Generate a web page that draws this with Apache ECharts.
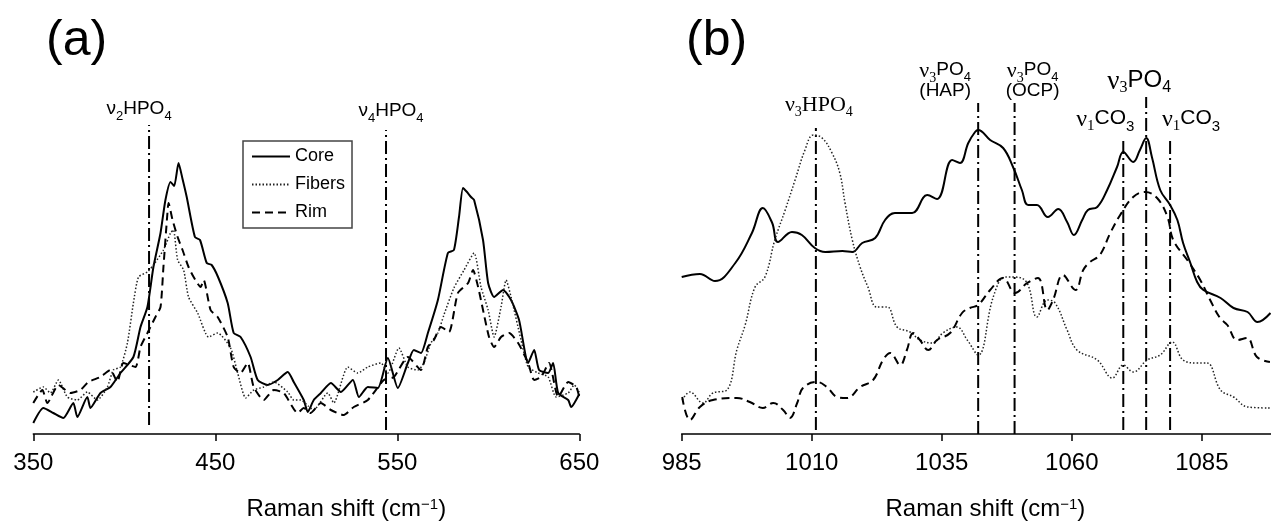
<!DOCTYPE html>
<html>
<head>
<meta charset="utf-8">
<script src="https://cdn.jsdelivr.net/npm/echarts@6/dist/echarts.min.js"></script>
<style>
  html, body { margin: 0; padding: 0; background: #fff; }
  #main { width: 1271px; height: 527px; }
</style>
</head>
<body>
<div id="main"></div>
<script>
// ---- panel (a): 350-650 cm-1, intensity in arbitrary units ----
const coreA = [[350,11],[355.5,26],[361,21],[366.5,16],[372,31],[374.2,17],[379.7,37],[381.4,26],[386.9,41],[392.4,47],[397.9,61],[405,77],[408.9,107],[412.7,127],[416,167],[419.9,201],[422.6,234],[425.4,252],[427.4,248],[429.8,271],[432,255],[434.3,237],[438.8,197],[441.6,194],[445.3,171],[448,169],[451.5,157],[456.8,131],[460.1,101],[463.9,97],[469.4,77],[473.3,54],[478.8,49],[484.3,54],[489.8,62],[493.1,52],[498.6,34],[500.8,22],[504.1,34],[508,41],[513.5,51],[519,42],[525.6,54],[528.9,37],[533.8,47],[539.3,46],[544.8,76],[550.3,46],[555.8,71],[559.1,84],[563,81],[566.8,101],[572.3,134],[577.8,181],[581.1,184],[583.9,217],[586.1,246],[588.3,242],[590.5,237],[592.2,234],[597.1,194],[599.9,151],[603.2,137],[608.1,144],[612.5,134],[616.9,114],[621.9,71],[625.2,84],[627.9,64],[632.9,61],[635.6,71],[638.4,41],[643.9,34],[645.5,27],[650,40]];
const fibersA = [[350,42],[355.5,47],[359.4,41],[363.8,54],[368.7,37],[374.2,34],[379.7,42],[385.2,34],[390.7,47],[394,64],[397.9,67],[401.7,91],[405,131],[407.8,157],[412.7,162],[416,169],[421.5,184],[425.4,201],[427,204],[429.3,174],[432.6,164],[435.3,137],[440.3,121],[446.3,97],[451.3,101],[458.4,86],[462.3,61],[466.7,36],[471.1,44],[476.6,47],[482.1,52],[489.8,42],[493.1,34],[497,34],[501,28],[504,24],[511.8,41],[515.1,31],[522.8,67],[528.3,61],[533.8,67],[541,71],[544.8,61],[550.9,86],[555.8,67],[561.3,64],[564.6,71],[568.5,91],[572.3,101],[575.6,119],[581.1,146],[586.7,164],[592.2,181],[596,147],[599.9,124],[603.2,97],[607,127],[609.8,154],[612.5,137],[618,94],[621.9,67],[627.4,61],[632.9,57],[637.3,37],[643.9,41],[647.2,49],[650,42]];
const rimA = [[350,31],[355,44],[357.7,31],[363.8,49],[370.4,41],[375.9,44],[380.3,52],[386.9,57],[392.4,64],[396.2,52],[399.5,71],[406.1,67],[408.9,87],[412.7,101],[417.1,117],[419.9,127],[421.5,167],[423.7,221],[424.3,231],[426.5,214],[429.3,197],[432,184],[435.3,167],[438.1,157],[441.9,147],[443.6,154],[447.4,124],[451.3,117],[456.8,97],[460.1,67],[463.9,61],[467.8,71],[471.1,47],[476.6,34],[482.1,44],[487.6,41],[495.3,21],[498.6,26],[502.4,21],[508,31],[513.5,24],[520.6,19],[526.1,27],[533.8,34],[542.6,54],[548.1,57],[555.8,77],[563,64],[566.8,87],[570.1,94],[574,107],[578.4,102],[583.3,141],[588.9,151],[591.6,164],[594.4,147],[597.1,124],[600.4,97],[603.2,87],[607,97],[611.4,101],[616.4,91],[621.9,71],[625.2,54],[629,57],[633.4,71],[638.4,37],[643.9,52],[648.3,47],[650,37]];

// ---- panel (b): 985-1098 cm-1 ----
const coreB = [[985,157],[988.5,160],[991.4,153],[995.3,171],[998.5,201],[1000.6,226],[1002.4,211],[1003.5,192],[1006.2,202],[1008.1,199],[1010.6,186],[1012.6,182],[1015.9,183],[1017.8,182],[1019.7,191],[1022.2,196],[1024.1,214],[1026,221],[1029.3,221],[1032.2,239],[1034.1,235],[1037,274],[1038.5,271],[1040.1,291],[1041.4,302],[1042,304],[1044.3,294],[1046.8,286],[1048.7,267],[1050.4,244],[1051.6,229],[1053.3,229],[1055.4,217],[1057.4,225],[1059.1,212],[1060.4,199],[1062,214],[1063.1,224],[1064.9,227],[1066.8,244],[1068.7,267],[1069.9,282],[1071.8,272],[1073.1,284],[1074.3,296],[1075.4,277],[1077,244],[1078.9,229],[1080.3,214],[1081.4,191],[1082.8,171],[1084.1,152],[1085.3,144],[1088.6,136],[1091.1,126],[1093.8,122],[1095.7,112],[1098.2,121]];
const fibersB = [[985.1,34],[986.6,42],[989.1,31],[991,41],[993.7,44],[995.6,84],[997.2,109],[999.1,147],[1001,157],[1002.9,194],[1004.9,224],[1006.8,254],[1008.7,284],[1010.3,299],[1012,296],[1013.9,281],[1015.4,261],[1016.4,231],[1017.8,194],[1019.3,167],[1020.8,147],[1022.5,127],[1024.5,127],[1026.4,107],[1028.9,102],[1030.8,94],[1033.3,91],[1035.2,101],[1037.9,107],[1039.9,94],[1042,79],[1044.9,137],[1047.2,157],[1049.1,157],[1051.4,151],[1053.3,117],[1055.3,134],[1056.8,131],[1059.1,104],[1061,84],[1064.9,74],[1067.8,56],[1069.9,69],[1071.8,62],[1074.5,74],[1077,79],[1079.3,92],[1081.4,74],[1084.1,71],[1086,71],[1088.6,44],[1091.1,37],[1093.8,27],[1098.2,26]];
const rimB = [[985.1,37],[986.6,14],[988.5,27],[991,34],[995.6,36],[998.1,32],[1000.6,26],[1002.6,31],[1004.5,24],[1005.8,16],[1007.2,31],[1008.3,46],[1011,52],[1012.9,47],[1014.9,37],[1016.8,36],[1019.3,47],[1021.8,54],[1023.7,74],[1025.1,81],[1027,69],[1028.3,84],[1029.5,101],[1030.8,94],[1032.4,84],[1034.1,94],[1036.6,101],[1038.9,121],[1040.4,126],[1042,129],[1044.3,144],[1046.8,156],[1049.1,141],[1051.4,151],[1053.5,156],[1055.3,124],[1056.4,134],[1058.3,159],[1060.7,144],[1062.2,164],[1063.5,172],[1065.4,179],[1067.4,201],[1069.3,219],[1071.8,237],[1074.1,242],[1076.4,236],[1078.4,217],[1079.5,194],[1082.2,174],[1084.7,154],[1086.6,134],[1088.5,116],[1089.9,109],[1091.8,94],[1093.7,96],[1095.6,77],[1098.1,72]];

// band markers: position (cm-1), bottom / top of the dash-dot line, label
const markAx = [413.6, 543.8];
const markAlo = [9, 4];
const markAhi = [309, 304];
const markAtxt = ['{v|ν}{s|2}{t|HPO}{s|4}', '{v|ν}{s|4}{t|HPO}{s|4}'];

const markBx = [1010.8, 1042.0, 1049.0, 1069.9, 1074.3, 1078.9];
const markBlo = [4, 0, 0, 4, 4, 4];
const markBhi = [306, 331, 331, 297, 337, 297];
const markBtxt = [
  '{sv|ν}{ss|3}{st|HPO}{ss|4}',
  '{sv|ν}{ss|3}{t|PO}{s|4}\n{t|(HAP)}',
  '{sv|ν}{ss|3}{t|PO}{s|4}\n{t|(OCP)}',
  '{cv|ν}{cs|1}{ct|CO}{cb|3}',
  '{bv|ν}{bs|3}{bt|PO}{bsub|4}',
  '{cv|ν}{cs|1}{ct|CO}{cb|3}'
];

const SANS = '"Liberation Sans", Arial, sans-serif'
const SERIF = '"Liberation Serif", "Times New Roman", serif'

// label placement (px), kept apart from the data
const labA = [[-10, 5], [5, 8]]
const labB = [[3, 13], [-33, 1], [18, 1], [-18, 7], [-7, 5], [21, 7]]

function tok(family, size, lh, drop) {
  const t = { fontFamily: family, fontSize: size, lineHeight: lh, verticalAlign: 'top', color: '#000' }
  if (drop) t.padding = [drop, 0, 0, 0]
  return t
}

const richLab = {
  v: tok(SANS, 19, 21), t: tok(SANS, 19, 21), s: tok(SANS, 13, 13, 11),
  sv: tok(SERIF, 22, 21), st: tok(SERIF, 22, 21), ss: tok(SERIF, 14, 14, 11),
  cv: tok(SERIF, 24, 22), ct: tok(SANS, 21, 22), cs: tok(SERIF, 15, 15, 11), cb: tok(SANS, 15, 15, 11),
  bv: tok(SERIF, 27, 24), bt: tok(SANS, 24, 24), bs: tok(SERIF, 16, 16, 12), bsub: tok(SANS, 16, 16, 12)
}

function markerSeries(xs, lo, hi, txt, lab, axis) {
  return xs.map((x, i) => ({
    type: 'line',
    xAxisIndex: axis,
    yAxisIndex: axis,
    silent: true,
    symbol: 'circle',
    symbolSize: 0,
    showSymbol: true,
    lineStyle: { color: '#000', width: 2, type: [13, 4, 2, 4] },
    data: [
      [x, lo[i]],
      {
        value: [x, hi[i]],
        label: {
          show: true,
          position: 'top',
          distance: lab[i][1],
          offset: [lab[i][0], 0],
          align: 'center',
          formatter: txt[i],
          rich: richLab
        }
      }
    ],
    z: 1
  }))
}

// 画图
function spectrum(name, data, axis, style, smooth) {
  return {
    name: name,
    type: 'line',
    xAxisIndex: axis,
    yAxisIndex: axis,
    data: data,
    symbol: 'circle',
    showSymbol: false,
    smooth: smooth,
    lineStyle: style,
    z: 3
  }
}

const coreStyle = { color: '#000', width: 2, type: 'solid' }
const fibersStyle = { color: '#222', width: 1.5, type: [1.5, 2] }
const rimStyle = { color: '#000', width: 2, type: [8, 5] }

const axisName = '{a|Raman shift (cm}{b|−1}{a|)}'

function xAxisOf(grid, min, max, interval, shift) {
  return {
    gridIndex: grid,
    type: 'value',
    min: min,
    max: max,
    interval: interval,
    axisLine: { lineStyle: { color: '#000', width: 1.5 } },
    axisTick: { show: true, length: 7, lineStyle: { color: '#000', width: 1.5 } },
    axisLabel: {
      fontFamily: SANS, fontSize: 24, color: '#000', margin: 17,
      showMinLabel: true, showMaxLabel: grid === 0,
      formatter: v => String(v)
    },
    splitLine: { show: false },
    name: axisName,
    nameLocation: 'middle',
    nameGap: 63,
    nameTextStyle: {
      padding: [0, 0, 0, shift],
      rich: {
        a: { fontFamily: SANS, fontSize: 24, lineHeight: 26, verticalAlign: 'top', color: '#000' },
        b: { fontFamily: SANS, fontSize: 15, lineHeight: 15, verticalAlign: 'top', color: '#000' }
      }
    }
  }
}

const myChart = echarts.init(document.getElementById('main'))
myChart.setOption({
  animation: false,
  backgroundColor: '#fff',
  title: [
    { text: '(a)', left: 46, top: 16, padding: 0, textStyle: { fontFamily: SANS, fontSize: 50, fontWeight: 'normal', color: '#000' } },
    { text: '(b)', left: 686, top: 16, padding: 0, textStyle: { fontFamily: SANS, fontSize: 50, fontWeight: 'normal', color: '#000' } }
  ],
  legend: {
    left: 243,
    top: 141,
    orient: 'vertical',
    data: ['Core', 'Fibers', 'Rim'],
    itemWidth: 38,
    itemHeight: 14,
    itemGap: 7,
    padding: [5, 7, 5, 8],
    borderColor: '#444',
    borderWidth: 1.5,
    backgroundColor: '#fff',
    itemStyle: { opacity: 0 },
    textStyle: { fontFamily: SANS, fontSize: 18, color: '#000', lineHeight: 21 }
  },
  grid: [
    { left: 33.3, right: 691.7, top: 34, bottom: 93 },
    { left: 681.7, right: 0, top: 34, bottom: 93 }
  ],
  xAxis: [xAxisOf(0, 350, 650, 100, 80), xAxisOf(1, 985, 1098.3, 25, 18)],
  yAxis: [
    { gridIndex: 0, type: 'value', min: 0, max: 400, show: false },
    { gridIndex: 1, type: 'value', min: 0, max: 400, show: false }
  ],
  series: [
    ...markerSeries(markAx, markAlo, markAhi, markAtxt, labA, 0),
    ...markerSeries(markBx, markBlo, markBhi, markBtxt, labB, 1),
    spectrum('Core', coreA, 0, coreStyle, 0.2),
    spectrum('Fibers', fibersA, 0, fibersStyle, 0.2),
    spectrum('Rim', rimA, 0, rimStyle, 0.2),
    spectrum('Core', coreB, 1, coreStyle, 0.4),
    spectrum('Fibers', fibersB, 1, fibersStyle, 0.4),
    spectrum('Rim', rimB, 1, rimStyle, 0.4)
  ]
})
</script>
</body>
</html>
